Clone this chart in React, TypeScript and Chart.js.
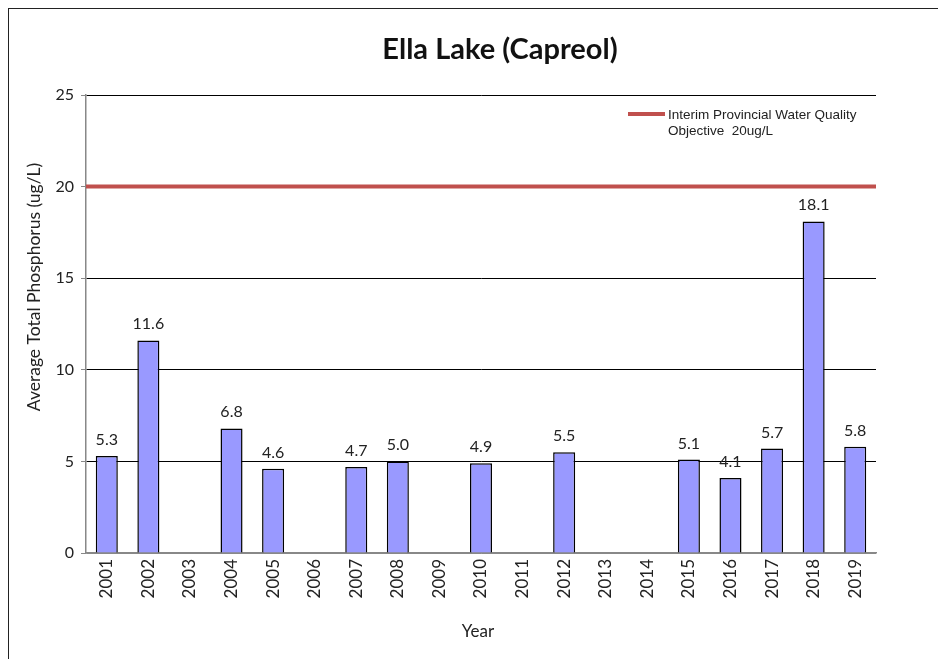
import React, { useEffect, useRef } from "react";
import { Chart, registerables } from "chart.js";

Chart.register(...registerables);

const years = ["2001","2002","2003","2004","2005","2006","2007","2008","2009","2010","2011","2012","2013","2014","2015","2016","2017","2018","2019"];
const phosphorus: (number | null)[] = [5.3, 11.6, null, 6.8, 4.6, null, 4.7, 5.0, null, 4.9, null, 5.5, null, null, 5.1, 4.1, 5.7, 18.1, 5.8];
const objectiveValue = 20;
const yTicks = [0, 5, 10, 15, 20, 25];
const titleText = "Ella Lake (Capreol)";
const yTitle = "Average Total Phosphorus (ug/L)";
const xTitle = "Year";
const legendLines = ["Interim Provincial Water Quality", "Objective  20ug/L"];

const W = 929;
const H = 650;
const FONT = "Lato, 'Open Sans', sans-serif";

const overlay = {
  id: "overlay",
  afterDatasetsDraw(chart: any) {
    const { ctx, chartArea, scales } = chart;
    const y = scales.y;
    const yy = y.getPixelForValue(objectiveValue);
    ctx.save();
    ctx.strokeStyle = "#C0504D";
    ctx.lineWidth = 4;
    ctx.beginPath();
    ctx.moveTo(chartArea.left, yy);
    ctx.lineTo(chartArea.right, yy);
    ctx.stroke();

    // data labels
    const meta = chart.getDatasetMeta(0);
    ctx.fillStyle = "#222";
    ctx.font = `16px ${FONT}`;
    ctx.textAlign = "center";
    ctx.textBaseline = "alphabetic";
    meta.data.forEach((bar: any, i: number) => {
      const v = phosphorus[i];
      if (v == null) return;
      ctx.fillText(v.toFixed(1), bar.x, bar.y - 11);
    });

    // title
    ctx.font = `bold 29px ${FONT}`;
    ctx.fillStyle = "#111";
    ctx.textBaseline = "middle";
    ctx.fillText(titleText, 491, 41);

    // x title
    ctx.font = `17px ${FONT}`;
    ctx.fillStyle = "#222";
    ctx.fillText(xTitle, 469, 623);

    // y title
    ctx.save();
    ctx.translate(25, 278);
    ctx.rotate(-Math.PI / 2);
    ctx.font = `17.5px ${FONT}`;
    ctx.fillText(yTitle, 0, 0);
    ctx.restore();

    // legend
    ctx.strokeStyle = "#C0504D";
    ctx.lineWidth = 4;
    ctx.beginPath();
    ctx.moveTo(619, 105);
    ctx.lineTo(656, 105);
    ctx.stroke();
    ctx.font = "13.5px 'Liberation Sans', Arial, sans-serif";
    ctx.fillStyle = "#222";
    ctx.textAlign = "left";
    ctx.fillText(legendLines[0], 659, 106);
    ctx.fillText(legendLines[1], 659, 122);
    ctx.restore();
  },
};

export default function App() {
  const ref = useRef<HTMLCanvasElement>(null);
  useEffect(() => {
    if (!ref.current) return;
    const chart = new Chart(ref.current, {
      type: "bar",
      data: {
        labels: years,
        datasets: [
          {
            data: phosphorus as any,
            backgroundColor: "#9999FF",
            borderColor: "#000",
            borderWidth: 1.5,
            categoryPercentage: 1,
            barPercentage: 0.53,
          },
        ],
      },
      options: {
        responsive: false,
        animation: false,
        layout: { padding: { left: 0, top: 86, right: 62, bottom: 0 } },
        plugins: { legend: { display: false }, tooltip: { enabled: false }, title: { display: false } },
        scales: {
          x: {
            grid: { display: false, drawTicks: false },
            border: { color: "#888", width: 1.5 },
            ticks: {
              maxRotation: 90,
              minRotation: 90,
              padding: 6,
              color: "#222",
              font: { family: FONT, size: 17 },
              autoSkip: false,
            },
            afterFit: (s: any) => { s.height = 106; },
          },
          y: {
            min: 0,
            max: 25,
            afterBuildTicks: (s: any) => { s.ticks = yTicks.map((v) => ({ value: v })); },
            grid: {
              color: (c: any) => (c.tick && c.tick.value === 0 ? "#888" : "#000"),
              lineWidth: 1,
              tickLength: 5,
              tickColor: "#888",
            },
            border: { color: "#888", width: 1.5 },
            ticks: {
              padding: 7,
              color: "#222",
              font: { family: FONT, size: 16 },
            },
            afterFit: (s: any) => { s.width = 77; },
          },
        },
      },
      plugins: [overlay],
    });
    return () => chart.destroy();
  }, []);
  return (
    <div
      style={{
        position: "fixed",
        top: 8,
        left: 8,
        width: 930,
        height: 651,
        borderTop: "1.5px solid #222",
        borderLeft: "1.5px solid #222",
        background: "#fff",
        overflow: "hidden",
      }}
    >
      <canvas ref={ref} width={W} height={H} style={{ display: "block", width: W, height: H }} />
    </div>
  );
}
